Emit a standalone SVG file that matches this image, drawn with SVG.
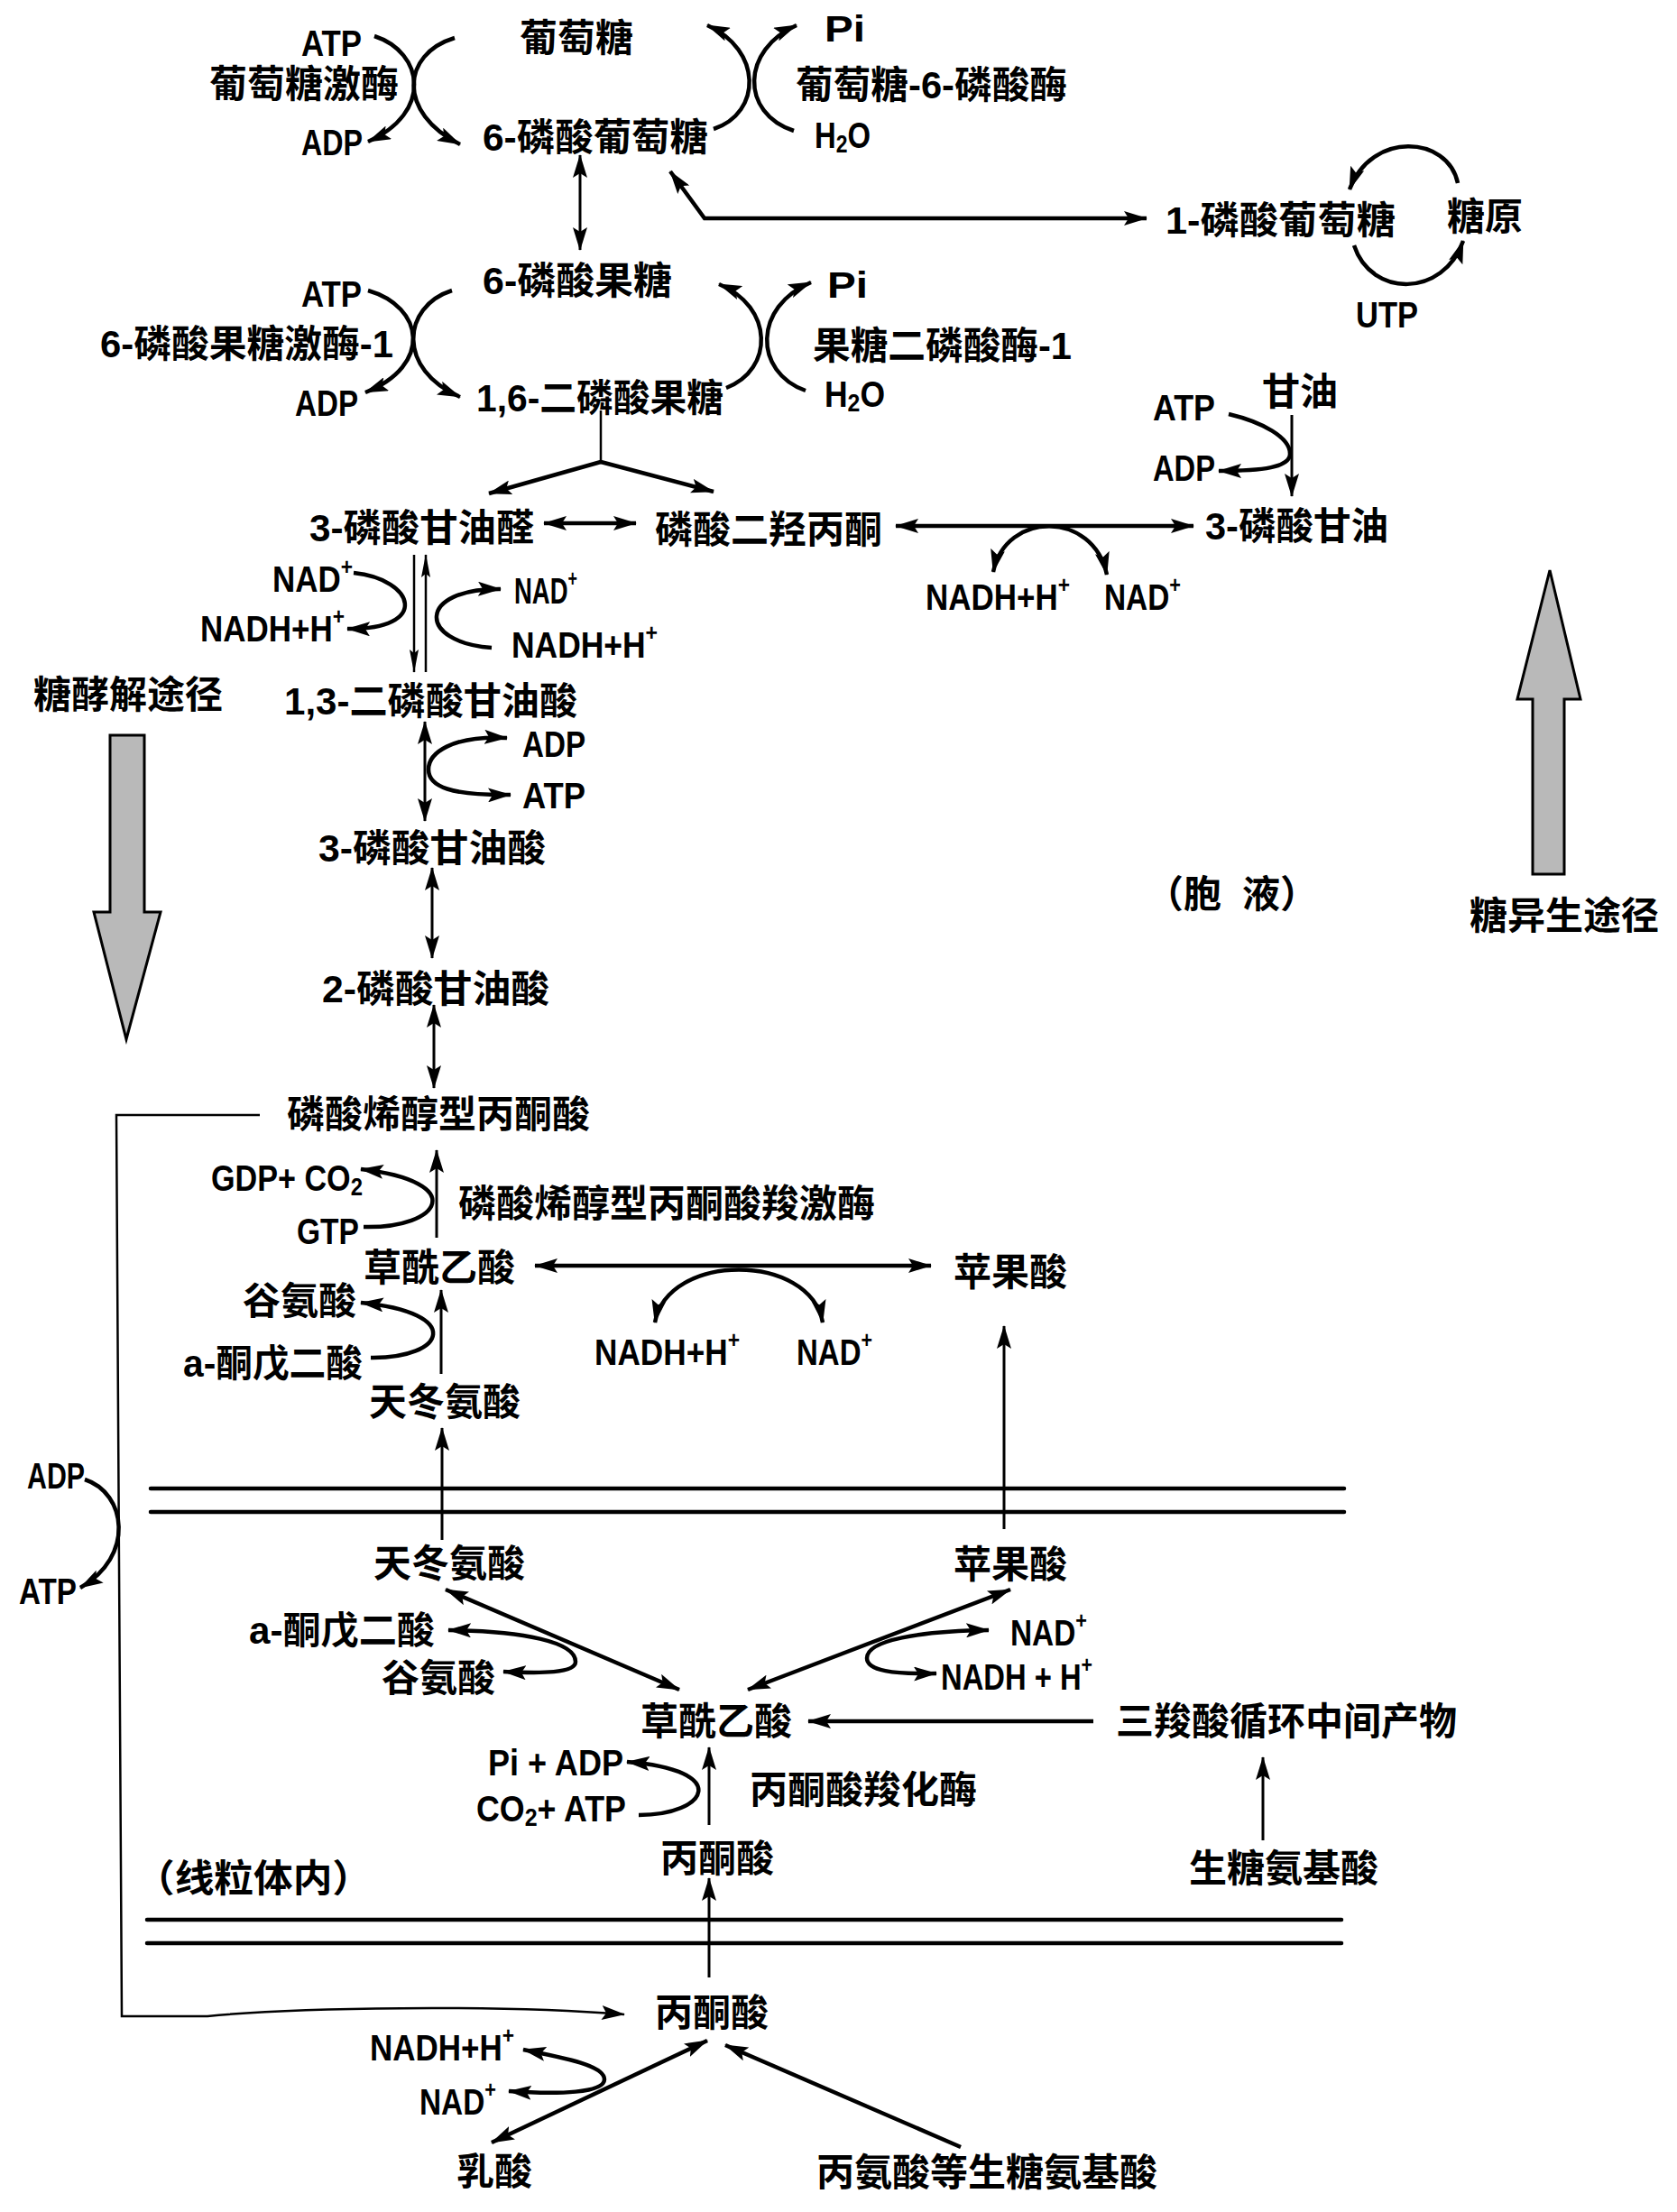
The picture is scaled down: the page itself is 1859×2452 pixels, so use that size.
<svg xmlns="http://www.w3.org/2000/svg" width="1859" height="2452" viewBox="0 0 1859 2452">
<style>
.c{font-family:"Liberation Sans Narrow","Liberation Sans","Noto Sans CJK SC","Noto Sans CJK JP",sans-serif;font-size:42px;font-weight:700;dominant-baseline:central;fill:#000}
.l{font-family:"Liberation Sans Narrow","Liberation Sans",Arial,sans-serif;font-size:40px;font-weight:700;dominant-baseline:central;fill:#000}
.sup{font-size:26px}
.sub{font-size:28px}
.ln{fill:none;stroke:#000;stroke-width:3}
.bd{fill:none;stroke:#000;stroke-width:4.5}
.th{fill:none;stroke:#000;stroke-width:2.5}
.mem{fill:none;stroke:#000;stroke-width:4.5;stroke-linecap:round}
.e{marker-end:url(#a)}
.b{marker-start:url(#a);marker-end:url(#a)}
.se{marker-end:url(#s)}
.big{fill:#b9b9b9;stroke:#000;stroke-width:3;stroke-linejoin:miter}
</style>
<defs>
<marker id="a" viewBox="0 0 26 16" refX="25" refY="8" markerWidth="26" markerHeight="16" markerUnits="userSpaceOnUse" orient="auto-start-reverse"><path d="M0,0 L26,8 L0,16 L5,8 z" fill="#000"/></marker>
<marker id="s" viewBox="0 0 26 10" refX="25" refY="5" markerWidth="26" markerHeight="10" markerUnits="userSpaceOnUse" orient="auto-start-reverse"><path d="M0,0 L26,5 L0,10 L4,5 z" fill="#000"/></marker>
</defs>
<rect width="1859" height="2452" fill="#fff"/>

<g id="connectors">
<!-- hexokinase / G6Pase -->
<path class="bd e" d="M415,40 C470,58 480,125 408,157"/>
<path class="bd e" d="M504,42 C445,60 440,125 510,160"/>
<path class="bd e" d="M791,143 C845,125 845,55 784,28"/>
<path class="bd e" d="M880,145 C820,125 822,55 883,28"/>
<path class="ln b" d="M643,172 L643,277"/>
<path class="bd b" d="M743,190 L781,242 L1271,242"/>
<path class="bd e" d="M1616,203 C1605,150 1520,145 1496,210"/>
<path class="bd e" d="M1501,272 C1520,330 1600,330 1622,267"/>
<!-- PFK / FBPase -->
<path class="bd e" d="M408,322 C470,340 480,405 405,435"/>
<path class="bd e" d="M501,322 C445,340 440,410 510,440"/>
<path class="bd e" d="M805,430 C858,410 858,340 797,315"/>
<path class="bd e" d="M893,433 C835,412 835,340 899,313"/>
<!-- split -->
<path class="th" d="M666,455 L666,512"/>
<path class="bd e" d="M666,512 L542,547"/>
<path class="bd e" d="M666,512 L791,545"/>
<path class="bd b" d="M603,580 L705,580"/>
<path class="bd b" d="M993,583 L1323,583"/>
<path class="bd b" d="M1101,634 C1115,566 1212,566 1227,637"/>
<path class="ln e" d="M1432,460 L1432,550"/>
<path class="bd e" d="M1362,459 C1400,468 1430,485 1430,503 C1430,518 1400,522 1351,522"/>
<!-- GAP dehydrogenase -->
<path class="th se" d="M459,615 L459,745"/>
<path class="th se" d="M472,745 L472,615"/>
<path class="bd e" d="M392,635 C460,642 478,698 385,697"/>
<path class="bd e" d="M545,718 C462,712 462,652 555,653"/>
<!-- PGK -->
<path class="ln b" d="M471,800 L471,910"/>
<path class="bd b" d="M562,818 C500,815 475,835 475,853 C475,872 500,882 566,881"/>
<path class="ln b" d="M479,962 L479,1062"/>
<path class="ln b" d="M481,1114 L481,1206"/>
<!-- PEPCK -->
<path class="ln e" d="M484,1372 L484,1275"/>
<path class="bd e" d="M403,1360 C490,1362 520,1310 400,1296"/>
<path class="bd b" d="M593,1403 L1032,1403"/>
<path class="bd b" d="M726,1466 C740,1388 898,1388 912,1466"/>
<path class="bd e" d="M411,1505 C495,1506 515,1455 400,1444"/>
<path class="ln e" d="M489,1523 L489,1430"/>
<!-- PEP to pyruvate bypass line -->
<path class="th e" d="M288,1236 L129,1236 L135,2235 L230,2235 C330,2225 550,2222 692,2233"/>
<path class="bd e" d="M94,1640 C140,1655 150,1725 89,1760"/>
<!-- membranes -->
<path class="mem" d="M167,1650 L1490,1650"/>
<path class="mem" d="M167,1676 L1490,1676"/>
<path class="mem" d="M163,2128 L1487,2128"/>
<path class="mem" d="M163,2154 L1487,2154"/>
<!-- mitochondria -->
<path class="ln e" d="M490,1707 L490,1583"/>
<path class="ln e" d="M1113,1695 L1113,1470"/>
<path class="bd b" d="M494,1762 L753,1873"/>
<path class="bd b" d="M497,1807 C580,1808 638,1820 638,1842 C638,1855 600,1855 558,1853"/>
<path class="bd b" d="M1120,1762 L829,1873"/>
<path class="bd b" d="M1096,1807 C1020,1808 961,1818 961,1838 C961,1852 990,1856 1038,1855"/>
<path class="bd e" d="M1212,1908 L896,1908"/>
<path class="ln e" d="M1400,2040 L1400,1948"/>
<path class="bd e" d="M708,2012 C785,2012 812,1962 695,1953"/>
<path class="ln e" d="M786,2023 L786,1937"/>
<path class="ln e" d="M786,2192 L786,2082"/>
<!-- pyruvate / lactate -->
<path class="bd b" d="M580,2272 C630,2282 670,2290 670,2305 C670,2320 620,2322 564,2318"/>
<path class="bd b" d="M545,2375 L784,2262"/>
<path class="bd e" d="M1065,2380 L804,2267"/>
</g>

<g id="pathway-arrows">
<polygon id="glycolysis-arrow" class="big" points="122,815 160,815 160,1011 178,1011 140,1152 104,1011 122,1011"/>
<polygon id="gluconeogenesis-arrow" class="big" points="1699,969 1734,969 1734,775 1752,775 1718,632 1682,775 1699,775"/>
</g>

<g id="n-glucose"><text class="c" x="576" y="42">葡萄糖</text></g>
<g id="n-atp1"><text class="l" x="334" y="47.5" textLength="67" lengthAdjust="spacingAndGlyphs">ATP</text></g>
<g id="n-hexokinase"><text class="c" x="232" y="93">葡萄糖激酶</text></g>
<g id="n-adp1"><text class="l" x="334" y="158" textLength="68" lengthAdjust="spacingAndGlyphs">ADP</text></g>
<g id="n-g6p"><text class="c" x="535" y="152" textLength="250" lengthAdjust="spacingAndGlyphs">6-磷酸葡萄糖</text></g>
<g id="n-pi1"><text class="l" x="914" y="32" textLength="45" lengthAdjust="spacingAndGlyphs">Pi</text></g>
<g id="n-g6pase"><text class="c" x="882" y="94" textLength="301" lengthAdjust="spacingAndGlyphs">葡萄糖-6-磷酸酶</text></g>
<g id="n-h2o1"><text class="l" x="903" y="150" textLength="62" lengthAdjust="spacingAndGlyphs">H<tspan class="sub" dy="9">2</tspan><tspan dy="-9">O</tspan></text></g>
<g id="n-g1p"><text class="c" x="1292" y="244" textLength="255" lengthAdjust="spacingAndGlyphs">1-磷酸葡萄糖</text></g>
<g id="n-glycogen"><text class="c" x="1604" y="240">糖原</text></g>
<g id="n-utp"><text class="l" x="1503" y="349" textLength="69" lengthAdjust="spacingAndGlyphs">UTP</text></g>

<g id="n-f6p"><text class="c" x="535" y="311" textLength="210" lengthAdjust="spacingAndGlyphs">6-磷酸果糖</text></g>
<g id="n-atp2"><text class="l" x="334" y="326" textLength="67" lengthAdjust="spacingAndGlyphs">ATP</text></g>
<g id="n-pfk"><text class="c" x="111" y="381" textLength="325" lengthAdjust="spacingAndGlyphs">6-磷酸果糖激酶-1</text></g>
<g id="n-adp2"><text class="l" x="327" y="447" textLength="70" lengthAdjust="spacingAndGlyphs">ADP</text></g>
<g id="n-f16bp"><text class="c" x="528" y="441" textLength="274" lengthAdjust="spacingAndGlyphs">1,6-二磷酸果糖</text></g>
<g id="n-pi2"><text class="l" x="917" y="316" textLength="45" lengthAdjust="spacingAndGlyphs">Pi</text></g>
<g id="n-fbpase"><text class="c" x="901" y="383" textLength="287" lengthAdjust="spacingAndGlyphs">果糖二磷酸酶-1</text></g>
<g id="n-h2o2"><text class="l" x="914" y="437" textLength="67" lengthAdjust="spacingAndGlyphs">H<tspan class="sub" dy="9">2</tspan><tspan dy="-9">O</tspan></text></g>

<g id="n-glycerol"><text class="c" x="1399" y="434">甘油</text></g>
<g id="n-atp3"><text class="l" x="1278" y="452" textLength="69" lengthAdjust="spacingAndGlyphs">ATP</text></g>
<g id="n-adp3"><text class="l" x="1278" y="519" textLength="69" lengthAdjust="spacingAndGlyphs">ADP</text></g>
<g id="n-g3p"><text class="c" x="1336" y="583" textLength="203" lengthAdjust="spacingAndGlyphs">3-磷酸甘油</text></g>
<g id="n-gap"><text class="c" x="343" y="585" textLength="249" lengthAdjust="spacingAndGlyphs">3-磷酸甘油醛</text></g>
<g id="n-dhap"><text class="c" x="726" y="587">磷酸二羟丙酮</text></g>
<g id="n-nadh1"><text class="l" x="1026" y="662" textLength="160" lengthAdjust="spacingAndGlyphs">NADH+H<tspan class="sup" dy="-14">+</tspan></text></g>
<g id="n-nad1"><text class="l" x="1224" y="662" textLength="85" lengthAdjust="spacingAndGlyphs">NAD<tspan class="sup" dy="-14">+</tspan></text></g>

<g id="n-nad2"><text class="l" x="302" y="642" textLength="89" lengthAdjust="spacingAndGlyphs">NAD<tspan class="sup" dy="-14">+</tspan></text></g>
<g id="n-nadh2"><text class="l" x="222" y="697" textLength="160" lengthAdjust="spacingAndGlyphs">NADH+H<tspan class="sup" dy="-14">+</tspan></text></g>
<g id="n-nad3"><text class="l" x="570" y="655" textLength="70" lengthAdjust="spacingAndGlyphs">NAD<tspan class="sup" dy="-14">+</tspan></text></g>
<g id="n-nadh3"><text class="l" x="567" y="715" textLength="162" lengthAdjust="spacingAndGlyphs">NADH+H<tspan class="sup" dy="-14">+</tspan></text></g>
<g id="n-glycolysis"><text class="c" x="37" y="770">糖酵解途径</text></g>
<g id="n-bpg"><text class="c" x="315" y="777" textLength="325" lengthAdjust="spacingAndGlyphs">1,3-二磷酸甘油酸</text></g>
<g id="n-adp4"><text class="l" x="579" y="825" textLength="70" lengthAdjust="spacingAndGlyphs">ADP</text></g>
<g id="n-atp4"><text class="l" x="579" y="882" textLength="70" lengthAdjust="spacingAndGlyphs">ATP</text></g>
<g id="n-3pg"><text class="c" x="353" y="940" textLength="252" lengthAdjust="spacingAndGlyphs">3-磷酸甘油酸</text></g>
<g id="n-cytosol"><text class="c" y="991"><tspan x="1270">（胞</tspan><tspan x="1377">液）</tspan></text></g>
<g id="n-gluconeogenesis"><text class="c" x="1629" y="1015">糖异生途径</text></g>
<g id="n-2pg"><text class="c" x="357" y="1096" textLength="252" lengthAdjust="spacingAndGlyphs">2-磷酸甘油酸</text></g>
<g id="n-pep"><text class="c" x="318" y="1235">磷酸烯醇型丙酮酸</text></g>
<g id="n-gdp"><text class="l" x="234" y="1306" textLength="168" lengthAdjust="spacingAndGlyphs">GDP+ CO<tspan class="sub" dy="9">2</tspan></text></g>
<g id="n-gtp"><text class="l" x="329" y="1365" textLength="69" lengthAdjust="spacingAndGlyphs">GTP</text></g>
<g id="n-pepck"><text class="c" x="508" y="1334">磷酸烯醇型丙酮酸羧激酶</text></g>
<g id="n-oaa1"><text class="c" x="403" y="1405">草酰乙酸</text></g>
<g id="n-malate1"><text class="c" x="1057" y="1410">苹果酸</text></g>
<g id="n-nadh4"><text class="l" x="659" y="1499" textLength="161" lengthAdjust="spacingAndGlyphs">NADH+H<tspan class="sup" dy="-14">+</tspan></text></g>
<g id="n-nad4"><text class="l" x="883" y="1499" textLength="84" lengthAdjust="spacingAndGlyphs">NAD<tspan class="sup" dy="-14">+</tspan></text></g>
<g id="n-glu1"><text class="c" x="269" y="1442">谷氨酸</text></g>
<g id="n-akg1"><text class="c" x="203" y="1511" textLength="199" lengthAdjust="spacingAndGlyphs">a-酮戊二酸</text></g>
<g id="n-asp1"><text class="c" x="409" y="1554">天冬氨酸</text></g>

<g id="n-adp5"><text class="l" x="30" y="1636" textLength="64" lengthAdjust="spacingAndGlyphs">ADP</text></g>
<g id="n-atp5"><text class="l" x="21" y="1764" textLength="64" lengthAdjust="spacingAndGlyphs">ATP</text></g>
<g id="n-asp2"><text class="c" x="414" y="1733">天冬氨酸</text></g>
<g id="n-malate2"><text class="c" x="1057" y="1734">苹果酸</text></g>
<g id="n-nad5"><text class="l" x="1120" y="1810" textLength="85" lengthAdjust="spacingAndGlyphs">NAD<tspan class="sup" dy="-14">+</tspan></text></g>
<g id="n-akg2"><text class="c" x="276" y="1807" textLength="206" lengthAdjust="spacingAndGlyphs">a-酮戊二酸</text></g>
<g id="n-glu2"><text class="c" x="423" y="1860">谷氨酸</text></g>
<g id="n-nadh5"><text class="l" x="1043" y="1859" textLength="168" lengthAdjust="spacingAndGlyphs">NADH + H<tspan class="sup" dy="-14">+</tspan></text></g>
<g id="n-oaa2"><text class="c" x="710" y="1908">草酰乙酸</text></g>
<g id="n-tca"><text class="c" x="1237" y="1908">三羧酸循环中间产物</text></g>
<g id="n-piadp"><text class="l" x="541" y="1954" textLength="150" lengthAdjust="spacingAndGlyphs">Pi + ADP</text></g>
<g id="n-pc"><text class="c" x="831" y="1984">丙酮酸羧化酶</text></g>
<g id="n-co2atp"><text class="l" x="528" y="2005" textLength="166" lengthAdjust="spacingAndGlyphs">CO<tspan class="sub" dy="9">2</tspan><tspan dy="-9">+ ATP</tspan></text></g>
<g id="n-pyr1"><text class="c" x="732" y="2060">丙酮酸</text></g>
<g id="n-mito"><text class="c" x="150" y="2082" textLength="262" lengthAdjust="spacingAndGlyphs">（线粒体内）</text></g>
<g id="n-gaa"><text class="c" x="1318" y="2071">生糖氨基酸</text></g>
<g id="n-pyr2"><text class="c" x="726" y="2231">丙酮酸</text></g>
<g id="n-nadh6"><text class="l" x="410" y="2270" textLength="160" lengthAdjust="spacingAndGlyphs">NADH+H<tspan class="sup" dy="-14">+</tspan></text></g>
<g id="n-nad6"><text class="l" x="465" y="2330" textLength="85" lengthAdjust="spacingAndGlyphs">NAD<tspan class="sup" dy="-14">+</tspan></text></g>
<g id="n-lactate"><text class="c" x="506" y="2407">乳酸</text></g>
<g id="n-ala"><text class="c" x="905" y="2408">丙氨酸等生糖氨基酸</text></g>
</svg>
